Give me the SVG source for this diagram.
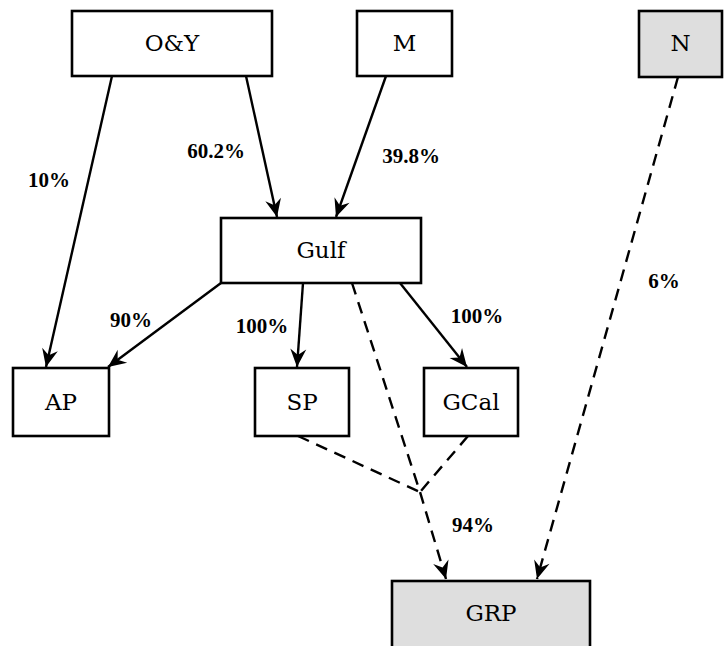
<svg xmlns="http://www.w3.org/2000/svg" width="724" height="646" viewBox="0 0 724 646">
  <style>
    .box { fill: #ffffff; stroke: #000000; stroke-width: 2.6; }
    .shaded { fill: #dedede; }
    .name { font-family: "DejaVu Serif", "Liberation Serif", serif; font-size: 23px; fill: #000000; text-anchor: middle; }
    .pct { font-family: "Liberation Serif", "DejaVu Serif", serif; font-weight: bold; font-size: 21px; fill: #000000; text-anchor: middle; }
    .edge { fill: none; stroke: #000000; stroke-width: 2.4; }
    .dash { stroke-dasharray: 12 8; }
  </style>
  <defs>
    <marker id="head" markerUnits="userSpaceOnUse" viewBox="-19 -9 20 18" refX="0" refY="0" markerWidth="20" markerHeight="18" orient="auto">
      <path d="M0,0 L-18,-8 L-12,0 L-18,8 Z" fill="#000000" stroke="none"/>
    </marker>
  </defs>

  <!-- connectors and their share labels -->
  <g id="connectors">
    <path class="edge" d="M112,76 L46,367" marker-end="url(#head)"/>
    <path class="edge" d="M246,76 L277,217" marker-end="url(#head)"/>
    <path class="edge" d="M386,76 L336,217" marker-end="url(#head)"/>
    <path class="edge" d="M221,283 L108,367" marker-end="url(#head)"/>
    <path class="edge" d="M303,283 L297,367" marker-end="url(#head)"/>
    <path class="edge" d="M400,283 L467,367" marker-end="url(#head)"/>
    <path class="edge dash" d="M352,283 L420,492 L446,579" marker-end="url(#head)"/>
    <path class="edge dash" d="M298,436 L420,492"/>
    <path class="edge dash" d="M468,436 L420,492"/>
    <path class="edge dash" d="M678,77 L537,579" marker-end="url(#head)"/>

    <text class="pct" x="49" y="187">10%</text>
    <text class="pct" x="216" y="158">60.2%</text>
    <text class="pct" x="411" y="163">39.8%</text>
    <text class="pct" x="131" y="327">90%</text>
    <text class="pct" x="262" y="333">100%</text>
    <text class="pct" x="477" y="323">100%</text>
    <text class="pct" x="664" y="288">6%</text>
    <text class="pct" x="473" y="532">94%</text>
  </g>

  <!-- nodes -->
  <g id="node-oy">
    <rect class="box" x="72" y="11" width="200" height="65"/>
    <text class="name" x="172" y="51">O&amp;Y</text>
  </g>
  <g id="node-m">
    <rect class="box" x="357" y="11" width="95" height="65"/>
    <text class="name" x="404.5" y="51">M</text>
  </g>
  <g id="node-n">
    <rect class="box shaded" x="639" y="11" width="83" height="66"/>
    <text class="name" x="680.5" y="51">N</text>
  </g>
  <g id="node-gulf">
    <rect class="box" x="221" y="218" width="200" height="65"/>
    <text class="name" x="321" y="258">Gulf</text>
  </g>
  <g id="node-ap">
    <rect class="box" x="13" y="368" width="96" height="68"/>
    <text class="name" x="61" y="410">AP</text>
  </g>
  <g id="node-sp">
    <rect class="box" x="255" y="368" width="94" height="68"/>
    <text class="name" x="302" y="410">SP</text>
  </g>
  <g id="node-gcal">
    <rect class="box" x="424" y="368" width="94" height="68"/>
    <text class="name" x="471" y="410">GCal</text>
  </g>
  <g id="node-grp">
    <rect class="box shaded" x="392" y="581" width="198" height="80"/>
    <text class="name" x="491" y="621">GRP</text>
  </g>
</svg>
